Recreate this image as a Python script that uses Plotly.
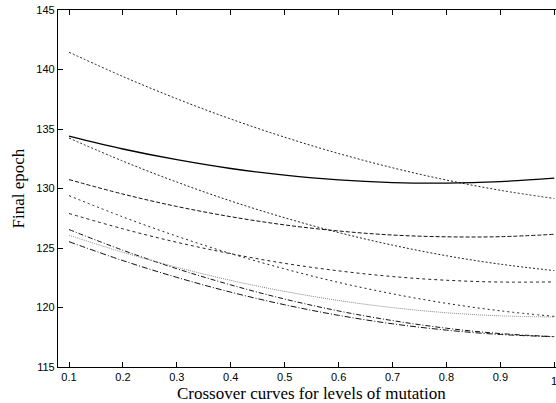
import plotly.graph_objects as go

# Crossover rate (x) and final epoch for each mutation level curve
crossover = [0.1, 0.2, 0.3, 0.4, 0.5, 0.6, 0.7, 0.8, 0.9, 1.0]

curve_a = [141.45, 139.41, 137.54, 135.84, 134.31, 132.94, 131.74, 130.71, 129.85, 129.16]
curve_b = [134.40, 133.32, 132.42, 131.68, 131.12, 130.72, 130.50, 130.45, 130.58, 130.87]
curve_c = [134.24, 132.30, 130.54, 128.95, 127.54, 126.30, 125.24, 124.35, 123.64, 123.10]
curve_d = [130.75, 129.53, 128.49, 127.63, 126.94, 126.43, 126.09, 125.94, 125.95, 126.15]
curve_e = [129.40, 127.61, 125.99, 124.53, 123.24, 122.11, 121.15, 120.35, 119.72, 119.25]
curve_f = [127.90, 126.61, 125.48, 124.52, 123.71, 123.08, 122.60, 122.29, 122.14, 122.15]
curve_g = [126.55, 124.81, 123.26, 121.90, 120.71, 119.71, 118.90, 118.26, 117.81, 117.55]
curve_h = [126.07, 124.64, 123.38, 122.28, 121.35, 120.59, 119.99, 119.56, 119.30, 119.20]
curve_i = [125.53, 123.94, 122.53, 121.29, 120.23, 119.34, 118.63, 118.10, 117.73, 117.55]

x_ticks = [0.1, 0.2, 0.3, 0.4, 0.5, 0.6, 0.7, 0.8, 0.9, 1.0]
x_tick_text = ["0.1", "0.2", "0.3", "0.4", "0.5", "0.6", "0.7", "0.8", "0.9", "1"]
y_ticks = [115, 120, 125, 130, 135, 140, 145]

series = [
    (curve_a, "2px,2px", "#222", 1.0),
    (curve_b, "solid", "#000", 1.3),
    (curve_c, "2px,2px", "#222", 1.0),
    (curve_d, "4px,2px", "#111", 1.0),
    (curve_e, "2px,3px", "#222", 1.0),
    (curve_f, "3px,3px", "#222", 1.0),
    (curve_g, "5px,2px,1px,2px", "#111", 1.0),
    (curve_h, "1px,1px", "#888", 1.0),
    (curve_i, "6px,2px,1px,2px", "#111", 1.0),
]

fig = go.Figure()
for ys, dash, color, width in series:
    fig.add_trace(go.Scatter(
        x=crossover, y=ys, mode="lines",
        line=dict(color=color, width=width, dash=dash, shape="spline", smoothing=1.0),
        showlegend=False, hoverinfo="skip",
    ))

tick_font = dict(family="Liberation Sans, Arial, sans-serif", size=11, color="#000")
title_font = dict(family="Liberation Serif, Times New Roman, serif", size=17, color="#000")

fig.update_layout(
    width=556, height=403,
    margin=dict(l=58, r=0, t=10, b=36),
    paper_bgcolor="white", plot_bgcolor="white",
    showlegend=False,
)
# the label of the last tick sits on the right edge, so it is drawn as an annotation
axis_tick_text = x_tick_text[:-1] + [""]
fig.update_xaxes(
    range=[0.0796, 1.0032], tickvals=x_ticks, ticktext=axis_tick_text,
    ticks="inside", ticklen=5, tickwidth=1, tickcolor="#000",
    showline=True, linecolor="#000", linewidth=1.2, mirror="ticks",
    showgrid=False, zeroline=False, tickfont=tick_font,
)
fig.update_yaxes(
    range=[115, 145], tickvals=y_ticks,
    ticks="inside", ticklen=5, tickwidth=1, tickcolor="#000",
    showline=True, linecolor="#000", linewidth=1.2, mirror=False,
    showgrid=False, zeroline=False, tickfont=tick_font,
)
fig.add_annotation(
    text=x_tick_text[-1], xref="x", yref="paper", x=x_ticks[-1], y=0,
    yanchor="middle", yshift=-14, showarrow=False, font=tick_font,
)
fig.add_annotation(
    text="Crossover curves for levels of mutation", xref="paper", yref="paper",
    x=0.51, y=0, yanchor="middle", yshift=-26, showarrow=False, font=title_font,
)
fig.add_annotation(
    text="Final epoch", xref="paper", yref="paper",
    x=0, y=0.5, xanchor="center", xshift=-40, textangle=-90, showarrow=False, font=title_font,
)

fig.write_html("out.html")
